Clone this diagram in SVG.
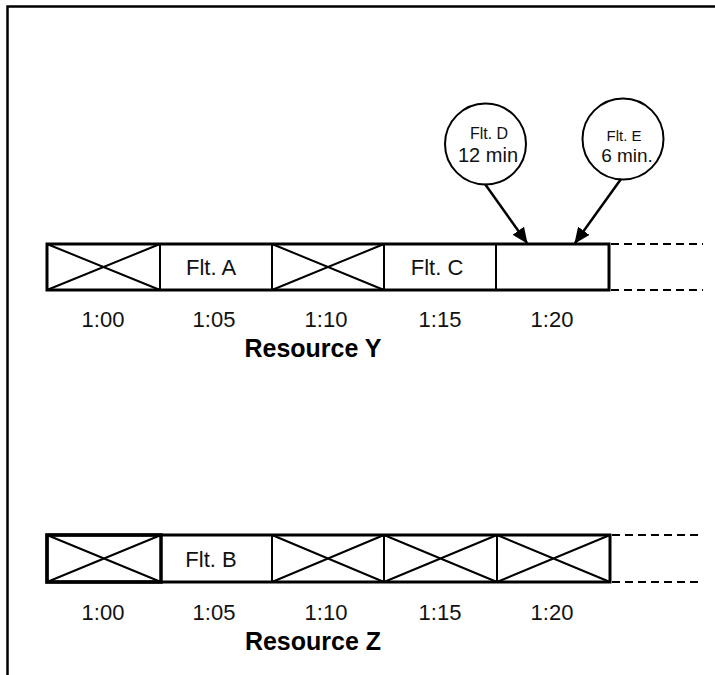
<svg xmlns="http://www.w3.org/2000/svg" width="715" height="675" viewBox="0 0 715 675">
<style>
.frame{fill:none;stroke:#000;stroke-width:2.5}
.bar{fill:#fff;stroke:#000;stroke-width:3}
.div{stroke:#000;stroke-width:2;fill:none}
.x{stroke:#000;stroke-width:2;fill:none}
.dash{stroke:#000;stroke-width:2;stroke-dasharray:8 5;fill:none}
.t{font-family:"Liberation Sans",Arial,sans-serif;font-size:22px;fill:#111;text-anchor:middle}
.f{font-family:"Liberation Sans",Arial,sans-serif;font-size:22px;fill:#111;text-anchor:middle}
.r{font-family:"Liberation Sans",Arial,sans-serif;font-size:25px;font-weight:bold;fill:#000;text-anchor:middle}
.c{font-family:"Liberation Sans",Arial,sans-serif;font-size:16px;fill:#111;text-anchor:middle}
.c2{font-family:"Liberation Sans",Arial,sans-serif;font-size:20px;fill:#111;text-anchor:middle}
.circ{fill:#fff;stroke:#000;stroke-width:2}
.arr{stroke:#000;stroke-width:2.5;fill:none;marker-end:url(#ah)}
</style>
<defs>
<marker id="ah" viewBox="0 0 16 14" refX="15" refY="7" markerWidth="16" markerHeight="14" markerUnits="userSpaceOnUse" orient="auto">
<path d="M0,0 L16,7 L0,14 z" fill="#000"/>
</marker>
</defs>
<rect x="0" y="0" width="715" height="675" fill="#fff"/>
<path class="frame" d="M7.5,675 V6.5 H715"/>

<g id="resourceY">
<rect class="bar" x="47" y="244" width="562" height="46"/>
<path class="div" d="M160,244 V290 M272,244 V290 M384,244 V290 M496,244 V290"/>
<path class="x" d="M47,244 L160,290 M47,290 L160,244"/>
<path class="x" d="M272,244 L384,290 M272,290 L384,244"/>
<path class="dash" d="M611,244 H703 M611,290 H703"/>
<text class="f" x="211" y="275">Flt. A</text>
<text class="f" x="437" y="275">Flt. C</text>
<text class="t" x="103" y="327">1:00</text>
<text class="t" x="214" y="327">1:05</text>
<text class="t" x="326" y="327">1:10</text>
<text class="t" x="440" y="327">1:15</text>
<text class="t" x="552" y="327">1:20</text>
<text class="r" x="313" y="357">Resource Y</text>
</g>

<g id="resourceZ">
<rect class="bar" x="47" y="535" width="563" height="47"/>
<rect x="47" y="535" width="114" height="47" fill="none" stroke="#000" stroke-width="3.5"/>
<path class="div" d="M161,535 V582 M272,535 V582 M384,535 V582 M497,535 V582"/>
<path class="x" d="M47,535 L161,582 M47,582 L161,535"/>
<path class="x" d="M272,535 L384,582 M272,582 L384,535"/>
<path class="x" d="M384,535 L497,582 M384,582 L497,535"/>
<path class="x" d="M497,535 L610,582 M497,582 L610,535"/>
<path class="dash" d="M612,535 H703 M612,582 H703"/>
<text class="f" x="211" y="567">Flt. B</text>
<text class="t" x="103" y="620">1:00</text>
<text class="t" x="214" y="620">1:05</text>
<text class="t" x="326" y="620">1:10</text>
<text class="t" x="440" y="620">1:15</text>
<text class="t" x="552" y="620">1:20</text>
<text class="r" x="313" y="650">Resource Z</text>
</g>

<g id="fltD">
<circle class="circ" cx="485.5" cy="144" r="40.5"/>
<text class="c" x="489" y="139">Flt. D</text>
<text class="c2" x="488" y="162">12 min</text>
</g>

<g id="fltE">
<circle class="circ" cx="623" cy="139" r="40.5"/>
<text class="c" x="624" y="141" style="font-size:15px">Flt. E</text>
<text class="c2" x="627" y="162" style="font-size:19px">6 min.</text>
</g>

<g id="connectors">
<line class="arr" x1="485" y1="184" x2="527" y2="243"/>
<line class="arr" x1="621" y1="179" x2="575" y2="243"/>
</g>
</svg>
